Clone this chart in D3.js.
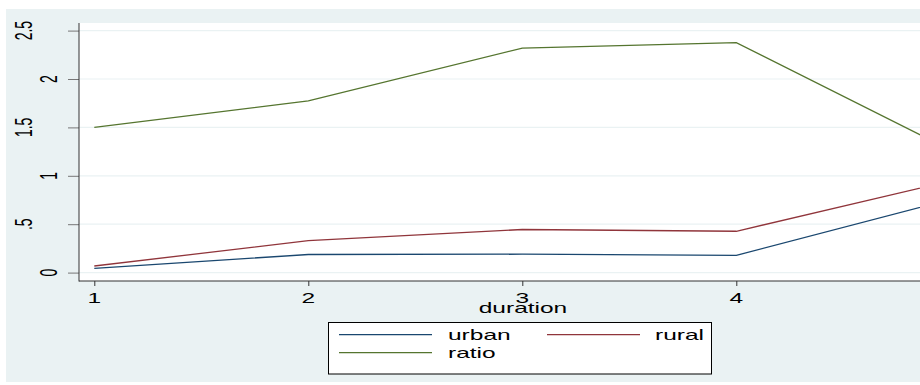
<!DOCTYPE html>
<html><head><meta charset="utf-8">
<script src="https://cdn.jsdelivr.net/npm/d3@7"></script>
<style>html,body{margin:0;padding:0;background:#fff}svg{display:block}</style>
</head><body>
<script>
const durations = [1, 2, 3, 4, 5];
const urban = [0.044, 0.187, 0.19, 0.178, 0.755];
const rural = [0.068, 0.33, 0.445, 0.427, 0.947];
const ratio = [1.50, 1.773, 2.32, 2.375, 1.266];
const yTicks = [0, 0.5, 1, 1.5, 2, 2.5];
const yTickLabels = ["0", ".5", "1", "1.5", "2", "2.5"];
const xTicks = [1, 2, 3, 4];
const seriesNames = ["urban", "rural", "ratio"];
const seriesColors = ["#1a476f", "#90353b", "#55752f"];

const W = 920, H = 385, SX = 1.75;
const svg = d3.select("body").append("svg").attr("width", W).attr("height", H);
svg.append("rect").attr("x", 6).attr("y", 9).attr("width", W - 6).attr("height", 373).attr("fill", "#eaf2f3");

const plot = {l: 79, t: 23, r: 920, b: 281};
svg.append("rect").attr("x", plot.l).attr("y", plot.t).attr("width", plot.r - plot.l).attr("height", plot.b - plot.t).attr("fill", "#fff");

const x = d3.scaleLinear().domain([1, 5]).range([94.3, 950.3]);
const y = d3.scaleLinear().domain([0, 2.5]).range([272.6, 30.6]);

function txt(g, tx, ty, s, anchor, rot) {
  return g.append("text")
    .attr("transform", `translate(${tx},${ty}) scale(${SX},1)` + (rot ? " rotate(-90)" : ""))
    .attr("text-anchor", anchor)
    .attr("font-family", "Liberation Sans, Arial, sans-serif")
    .attr("font-size", 14).attr("fill", "#000").text(s);
}

// gridlines
svg.append("g").selectAll("line").data(yTicks).join("line")
  .attr("x1", plot.l).attr("x2", plot.r).attr("y1", d => y(d)).attr("y2", d => y(d))
  .attr("stroke", "#eaf2f3").attr("stroke-width", 1.2);

// y axis
const yAxis = svg.append("g").attr("transform", `translate(${plot.l},0)`)
  .call(d3.axisLeft(y).tickValues(yTicks).tickSize(11).tickFormat(""));
yAxis.select(".domain").remove();
yAxis.selectAll(".tick line").attr("stroke", "#777");
svg.append("line").attr("x1", plot.l).attr("x2", plot.l).attr("y1", plot.t).attr("y2", plot.b + 0.5).attr("stroke", "#333");
yTicks.forEach((v, i) => {
  const lab = yTickLabels[i];
  const isInt = !lab.includes(".");
  txt(svg, isInt ? 57 : 32, y(v), lab, "middle", true);
});

// x axis
const xAxis = svg.append("g").attr("transform", `translate(0,${plot.b})`)
  .call(d3.axisBottom(x).tickValues(xTicks).tickSize(5).tickFormat(""));
xAxis.select(".domain").remove();
xAxis.selectAll(".tick line").attr("stroke", "#333");
svg.append("line").attr("x1", plot.l).attr("x2", plot.r).attr("y1", plot.b).attr("y2", plot.b).attr("stroke", "#333");
xTicks.forEach(v => txt(svg, x(v), 303, String(v), "middle", false));
txt(svg, 523, 313, "duration", "middle", false);

// lines
const data = [urban, rural, ratio];
const line = d3.line().x((d, i) => x(durations[i])).y(d => y(d));
svg.append("defs").append("clipPath").attr("id", "pc").append("rect")
  .attr("x", plot.l).attr("y", plot.t).attr("width", plot.r - plot.l).attr("height", plot.b - plot.t);
svg.append("g").attr("clip-path", "url(#pc)").selectAll("path").data(data).join("path")
  .attr("d", line).attr("fill", "none")
  .attr("stroke", (d, i) => seriesColors[i]).attr("stroke-width", 1.3);

// legend
const lg = svg.append("g");
lg.append("rect").attr("x", 328.5).attr("y", 322.5).attr("width", 383).attr("height", 51.5)
  .attr("fill", "#fff").attr("stroke", "#000").attr("stroke-width", 1);
const legPos = [{x: 339, y: 334.7, tx: 448, ty: 340}, {x: 547, y: 334.7, tx: 655, ty: 340}, {x: 339, y: 352.7, tx: 448, ty: 358}];
legPos.forEach((p, i) => {
  lg.append("line").attr("x1", p.x).attr("x2", p.x + 93).attr("y1", p.y).attr("y2", p.y)
    .attr("stroke", seriesColors[i]).attr("stroke-width", 1.3);
  txt(lg, p.tx, p.ty, seriesNames[i], "start", false);
});
</script>
</body></html>
